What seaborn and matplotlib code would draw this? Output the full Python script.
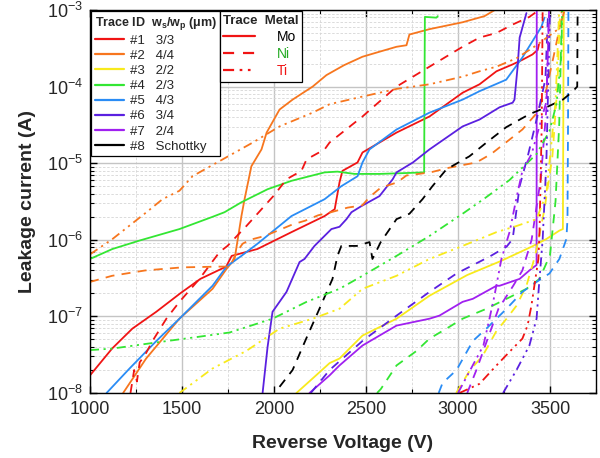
import matplotlib
matplotlib.use("Agg")
import matplotlib.pyplot as plt
from matplotlib.lines import Line2D
from matplotlib.ticker import LogLocator, MultipleLocator, NullFormatter
import numpy as np
import pandas as pd
import seaborn as sns

# trace colours / labels
trace_ids = ['#1', '#2', '#3', '#4', '#5', '#6', '#7', '#8']
trace_ws_wp = ['3/3', '4/4', '2/2', '2/3', '4/3', '3/4', '2/4', 'Schottky']
trace_colors = ['#f01414', '#f7761e', '#f8ea1c', '#33e633',
                '#2a8cf5', '#5a20e0', '#a020f0', '#000000']
metals = ['Mo', 'Ni', 'Ti']
metal_text_colors = ['black', '#22aa22', '#f01414']

# values: voltage (V) and log10 of leakage current (A)
# --- Mo (solid) ---
mo1_v = [1000, 1120, 1230, 1360, 1490, 1600, 1740, 1770, 1910, 2095, 2275, 2330, 2356,
         2372, 2454, 2481, 2666, 2845, 3025, 3117, 3209, 3297, 3350, 3405, 3433, 3440]
mo1_l = [-7.77, -7.42, -7.16, -6.94, -6.70, -6.51, -6.35, -6.21, -6.12, -5.90, -5.69, -5.60,
         -5.25, -5.10, -4.99, -4.86, -4.60, -4.39, -4.08, -3.97, -3.80, -3.71, -3.65, -3.58,
         -3.52, -3.45]
mo2_v = [1180, 1305, 1486, 1666, 1742, 1786, 1823, 1840, 1877, 1932, 1960, 2030, 2101,
         2210, 2285, 2381, 2481, 2580, 2666, 2720, 2736, 2845, 3025, 3144, 3200]
mo2_l = [-8.0, -7.55, -7.03, -6.64, -6.38, -6.25, -5.69, -5.47, -5.04, -4.82, -4.60, -4.30,
         -4.17, -4.00, -3.85, -3.72, -3.61, -3.54, -3.48, -3.46, -3.32, -3.25, -3.16, -3.08,
         -3.0]
mo3_v = [2122, 2210, 2302, 2356, 2481, 2666, 2845, 3050, 3230, 3400, 3480, 3551, 3570,
         3573, 3575]
mo3_l = [-8.0, -7.81, -7.61, -7.55, -7.25, -7.03, -6.73, -6.46, -6.28, -6.09, -5.99, -5.88,
         -5.86, -4.0, -3.0]
mo4_v = [1000, 1122, 1269, 1486, 1666, 1731, 1823, 1965, 2095, 2275, 2345, 2438, 2573,
         2700, 2816, 2818, 2820, 2883, 2890]
mo4_l = [-6.25, -6.12, -6.01, -5.86, -5.70, -5.64, -5.51, -5.34, -5.23, -5.12, -5.11, -5.14,
         -5.14, -5.13, -5.12, -4.0, -3.09, -3.10, -3.08]
mo5_v = [1090, 1215, 1361, 1486, 1666, 1742, 1823, 1911, 2095, 2275, 2366, 2454, 2481,
         2519, 2666, 2845, 3025, 3117, 3262, 3350, 3453, 3470]
mo5_l = [-8.0, -7.68, -7.32, -7.03, -6.60, -6.35, -6.21, -6.05, -5.69, -5.47, -5.30, -5.17,
         -4.99, -4.82, -4.56, -4.34, -4.17, -4.06, -3.91, -3.62, -3.22, -3.10]
mo6_v = [1938, 1965, 1992, 2068, 2139, 2166, 2220, 2312, 2356, 2394, 2421, 2475, 2573,
         2645, 2666, 2755, 2845, 3025, 3117, 3226, 3297, 3307, 3324, 3335, 3372]
mo6_l = [-8.0, -7.4, -6.94, -6.68, -6.29, -6.25, -6.08, -5.86, -5.83, -5.73, -5.64, -5.56,
         -5.43, -5.21, -5.12, -4.99, -4.82, -4.52, -4.43, -4.27, -4.21, -4.17, -3.74, -3.36,
         -3.04]
mo7_v = [2193, 2302, 2356, 2481, 2666, 2845, 2899, 3025, 3081, 3209, 3226, 3335, 3388,
         3415, 3427, 3428]
mo7_l = [-8.0, -7.77, -7.64, -7.38, -7.12, -7.03, -6.99, -6.81, -6.77, -6.60, -6.60, -6.51,
         -6.40, -6.35, -6.33, -3.0]

# --- Ni (dashed) ---
ni1_v = [1220, 1240, 1255, 1270, 1300, 1340, 1415, 1486, 1595, 1704, 1747, 1850, 2000,
         2068, 2149, 2177, 2275, 2302, 2481, 2666, 2845, 3025, 3117, 3209, 3297, 3388, 3440]
ni1_l = [-8.0, -7.7, -7.85, -7.6, -7.5, -7.32, -7.03, -6.81, -6.51, -6.16, -6.08, -5.82,
         -5.42, -5.21, -5.10, -4.95, -4.82, -4.73, -4.39, -4.00, -3.74, -3.48, -3.36, -3.30,
         -3.19, -3.09, -3.0]
ni2_v = [1000, 1120, 1300, 1500, 1700, 1760, 1800, 1830, 1870, 1950, 2040, 2100, 2170,
         2240, 2310, 2400, 2480, 2520, 2580, 2670, 2720, 2850, 2950, 3100, 3180, 3260, 3350,
         3430, 3480, 3520, 3550, 3565]
ni2_l = [-6.55, -6.47, -6.40, -6.36, -6.35, -6.35, -6.15, -6.05, -6.00, -5.95, -5.86, -5.80,
         -5.75, -5.68, -5.64, -5.58, -5.55, -5.44, -5.32, -5.25, -5.16, -5.12, -5.06, -4.99,
         -4.88, -4.73, -4.56, -4.34, -4.04, -3.60, -3.26, -3.0]
ni3_v = [2990, 3063, 3135, 3209, 3264, 3318, 3372, 3420, 3470, 3513, 3540, 3555]
ni3_l = [-8.0, -7.71, -7.51, -7.19, -7.03, -6.86, -6.60, -6.2, -5.6, -4.91, -4.0, -3.0]
ni4_v = [2560, 2580, 2666, 2775, 2845, 2937, 3025, 3155, 3264, 3372, 3443, 3500, 3530,
         3550, 3565]
ni4_l = [-8.0, -7.95, -7.64, -7.45, -7.29, -7.16, -7.03, -6.90, -6.77, -6.64, -6.51, -6.2,
         -5.5, -4.5, -3.0]
ni5_v = [2895, 2916, 2992, 3081, 3154, 3264, 3350, 3427, 3497, 3551, 3589, 3595, 3598, 3600]
ni5_l = [-8.0, -7.87, -7.70, -7.32, -7.16, -6.90, -6.68, -6.55, -6.44, -6.25, -5.99, -5.73,
         -4.5, -3.0]
ni6_v = [2200, 2302, 2481, 2666, 2845, 2992, 3171, 3264, 3297, 3335, 3380, 3430, 3475, 3490]
ni6_l = [-8.0, -7.70, -7.32, -6.99, -6.68, -6.44, -6.22, -6.09, -5.99, -5.30, -4.9, -4.4,
         -3.9, -3.0]
ni7_v = [3050, 3100, 3160, 3220, 3300, 3350, 3400, 3450, 3480, 3495]
ni7_l = [-8.0, -7.7, -7.3, -6.9, -6.6, -6.4, -6.0, -5.2, -4.3, -3.0]
ni8_v = [2030, 2101, 2175, 2247, 2318, 2345, 2366, 2450, 2519, 2535, 2580, 2666, 2736,
         2807, 2861, 2937, 3062, 3155, 3262, 3388, 3480, 3570, 3620, 3648, 3650]
ni8_l = [-7.92, -7.70, -7.29, -6.90, -6.51, -6.21, -6.08, -6.08, -6.03, -6.25, -6.03, -5.73,
         -5.66, -5.47, -5.30, -5.08, -4.91, -4.73, -4.53, -4.36, -4.27, -4.17, -4.07, -4.0,
         -3.0]

# --- Ti (dash-dot-dot) ---
ti1_v = [3008, 3117, 3209, 3297, 3350, 3378, 3399, 3415, 3437, 3443, 3455, 3460]
ti1_l = [-8.0, -7.88, -7.64, -7.42, -7.29, -7.12, -6.86, -6.60, -6.25, -5.90, -4.5, -3.0]
ti2_v = [1000, 1122, 1307, 1394, 1486, 1557, 1721, 1885, 2030, 2210, 2302, 2481, 2666,
         2845, 3025, 3117, 3209, 3318, 3427, 3550, 3580]
ti2_l = [-6.19, -5.99, -5.64, -5.47, -5.36, -5.17, -4.95, -4.73, -4.52, -4.34, -4.23, -4.13,
         -4.03, -3.97, -3.87, -3.80, -3.74, -3.63, -3.46, -3.24, -3.0]
ti3_v = [1486, 1666, 1850, 2030, 2210, 2356, 2481, 2666, 2845, 3025, 3209, 3318, 3427,
         3480, 3530, 3550]
ti3_l = [-8.0, -7.68, -7.45, -7.16, -7.03, -6.90, -6.64, -6.47, -6.25, -6.08, -5.90, -5.82,
         -5.73, -5.4, -4.2, -3.0]
ti4_v = [1000, 1122, 1361, 1579, 1759, 1992, 2177, 2356, 2481, 2666, 2845, 3025, 3150,
         3280, 3427, 3497, 3535, 3562, 3566]
ti4_l = [-7.44, -7.42, -7.34, -7.27, -7.21, -7.03, -6.81, -6.64, -6.47, -6.21, -5.95, -5.66,
         -5.45, -5.22, -4.88, -4.58, -4.23, -3.58, -3.0]
ti6_v = [3245, 3318, 3388, 3427, 3440, 3460, 3480, 3490, 3500]
ti6_l = [-8.0, -7.70, -7.38, -7.03, -6.6, -6.0, -5.0, -4.0, -3.0]
ti7_v = [3000, 3080, 3138, 3171, 3198, 3236, 3280, 3318, 3350, 3400, 3480, 3495]
ti7_l = [-8.0, -7.64, -7.38, -7.03, -6.73, -6.25, -5.90, -5.45, -5.1, -4.88, -4.2, -3.0]

curves = [
    ('Mo', 1, mo1_v, mo1_l), ('Mo', 2, mo2_v, mo2_l), ('Mo', 3, mo3_v, mo3_l),
    ('Mo', 4, mo4_v, mo4_l), ('Mo', 5, mo5_v, mo5_l), ('Mo', 6, mo6_v, mo6_l),
    ('Mo', 7, mo7_v, mo7_l),
    ('Ni', 1, ni1_v, ni1_l), ('Ni', 2, ni2_v, ni2_l), ('Ni', 3, ni3_v, ni3_l),
    ('Ni', 4, ni4_v, ni4_l), ('Ni', 5, ni5_v, ni5_l), ('Ni', 6, ni6_v, ni6_l),
    ('Ni', 7, ni7_v, ni7_l), ('Ni', 8, ni8_v, ni8_l),
    ('Ti', 1, ti1_v, ti1_l), ('Ti', 2, ti2_v, ti2_l), ('Ti', 3, ti3_v, ti3_l),
    ('Ti', 4, ti4_v, ti4_l), ('Ti', 6, ti6_v, ti6_l), ('Ti', 7, ti7_v, ti7_l),
]

LW = 1.3
metal_styles = {
    'Mo': '-',
    'Ni': (0, (5, 4)),
    'Ti': (0, (5, 2.5, 1.2, 2.5, 1.2, 2.5)),
}

rows = []
for metal, tid, vs, ls in curves:
    for k, (v, l) in enumerate(zip(vs, ls)):
        rows.append({'metal': metal, 'trace': tid, 'order': k, 'V': v, 'I': 10.0 ** l})
df = pd.DataFrame(rows)

sns.set_theme(style='ticks')
plt.rcParams['font.family'] = ['Liberation Sans', 'DejaVu Sans']
plt.rcParams['mathtext.fontset'] = 'custom'
plt.rcParams['mathtext.rm'] = 'Liberation Sans'
plt.rcParams['mathtext.it'] = 'Liberation Sans:italic'
plt.rcParams['mathtext.bf'] = 'Liberation Sans:bold'

fig = plt.figure(figsize=(6, 4.58), dpi=100)
ax = fig.add_axes([0.15, 1 - 393 / 458, 506 / 600, 383 / 458])
ax.set_yscale('log')

for (metal, tid), sub in df.groupby(['metal', 'trace'], sort=False):
    sns.lineplot(data=sub.sort_values('order'), x='V', y='I', ax=ax,
                 color=trace_colors[tid - 1], linewidth=LW,
                 linestyle=metal_styles[metal],
                 estimator=None, sort=False, legend=False)

ax.set_xlim(1000, 3750)
ax.set_ylim(1e-8, 1e-3)
ax.xaxis.set_major_locator(MultipleLocator(500))
ax.xaxis.set_minor_locator(MultipleLocator(250))
ax.yaxis.set_major_locator(LogLocator(base=10, numticks=10))
ax.yaxis.set_minor_locator(LogLocator(base=10, subs=np.arange(2, 10), numticks=20))
ax.yaxis.set_minor_formatter(NullFormatter())

ax.grid(True, which='major', color='#c4c4c4', linewidth=1.0, linestyle='-')
ax.grid(True, which='minor', color='#d6d6d6', linewidth=0.6, linestyle=(0, (3, 2)))
ax.set_axisbelow(True)
for s in ax.spines.values():
    s.set_color('black')
    s.set_linewidth(1.0)
ax.tick_params(which='both', direction='in', top=True, right=True, color='black')
ax.tick_params(which='major', length=5, width=1.0, labelsize=13)
ax.tick_params(which='minor', length=3, width=0.8)
ax.tick_params(axis='x', which='major', pad=6)
ax.tick_params(axis='y', which='major', pad=5)

ax.set_xlabel('Reverse Voltage (V)', fontsize=14, fontweight='bold', labelpad=12)
ax.set_ylabel('Leakage current (A)', fontsize=14, fontweight='bold', labelpad=8)

# legend 1: trace IDs
h1 = [Line2D([], [], color=c, linewidth=1.6) for c in trace_colors]
l1 = [f'{t}   {w}' for t, w in zip(trace_ids, trace_ws_wp)]
leg1 = ax.legend(h1, l1, title=r'Trace ID  $\mathbf{w_s/w_p}$ (μm)',
                 title_fontproperties={'weight': 'bold', 'size': 9},
                 loc='upper left', bbox_to_anchor=(0.0, 1.0), borderaxespad=0.1,
                 fontsize=9.5, handlelength=2.2, handletextpad=0.5, labelspacing=0.22,
                 borderpad=0.25, alignment='left', fancybox=False, framealpha=1,
                 edgecolor='black')
leg1.get_frame().set_linewidth(0.9)
ax.add_artist(leg1)

# legend 2: metal line styles
h2 = [Line2D([], [], color=trace_colors[0], linewidth=1.6, linestyle=metal_styles[m])
      for m in metals]
leg2 = ax.legend(h2, metals, title='Trace  Metal',
                 title_fontproperties={'weight': 'bold', 'size': 9.5},
                 loc='upper left', bbox_to_anchor=(0.254, 1.0), borderaxespad=0.1,
                 fontsize=10, handlelength=2.3, handletextpad=1.55, labelspacing=0.22,
                 borderpad=0.25, alignment='left', fancybox=False, framealpha=1,
                 edgecolor='black')
leg2.get_frame().set_linewidth(0.9)
for txt, c in zip(leg2.get_texts(), metal_text_colors):
    txt.set_color(c)

fig.savefig('out.png', dpi=100)
